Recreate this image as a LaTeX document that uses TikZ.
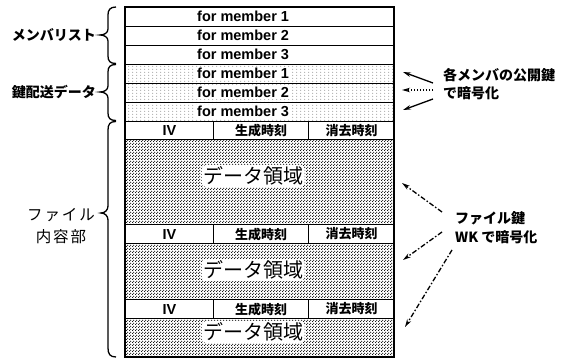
\documentclass[tikz,border=0pt]{standalone}
\usepackage{fontspec}
\setmainfont{Liberation Sans}
\newfontfamily\jp{Noto Sans CJK JP}
\newfontfamily\jpls{Noto Sans CJK JP}[LetterSpace=12]
\usetikzlibrary{patterns.meta,arrows.meta}

\tikzdeclarepattern{name=sparsedots, type=uncolored,
  bottom left={(0pt,0pt)}, top right={(4pt,3pt)}, tile size={(4pt,3pt)},
  code={\fill (1pt,1pt) circle (0.5pt);}}
\tikzdeclarepattern{name=densedots, type=uncolored,
  bottom left={(0pt,0pt)}, top right={(3pt,3pt)}, tile size={(3pt,3pt)},
  code={\fill (0.75pt,0.75pt) circle (0.75pt); \fill (2.25pt,2.25pt) circle (0.75pt);}}

\begin{document}
\begin{tikzpicture}[x=1pt,y=-1pt,
  cell/.style={draw, line width=1.1pt, inner sep=0pt, anchor=north west, minimum width=#1},
  cell/.default=269pt,
  keyrow/.style={cell, pattern=sparsedots, pattern color=black!80},
  datarow/.style={cell, pattern=densedots, pattern color=black},
  memtxt/.style={anchor=west, inner sep=1pt, font=\fontsize{14.5}{15}\selectfont\bfseries},
  memtxtw/.style={memtxt, fill=white},
  hdtxt/.style={inner sep=0pt, font=\jp\fontsize{13}{14}\selectfont\bfseries},
  datatxt/.style={fill=white, rounded corners=4pt, inner sep=1.5pt, font=\jp\fontsize{20}{22}\selectfont},
  lbl/.style={font=\jp\fontsize{14}{15}\selectfont\bfseries},
  lblfile/.style={font=\jpls\fontsize{15.5}{17}\selectfont},
  note/.style={anchor=west, inner sep=0pt, font=\jp\fontsize{14}{15}\selectfont\bfseries},
  bracestyle/.style={line width=1.3pt},
  keyarrow/.style={line width=1.3pt, -{Stealth[length=8pt,width=4.5pt]}},
  wkarrow/.style={line width=1.3pt, dash pattern=on 5pt off 2pt on 1.5pt off 2pt, -{Stealth[length=8pt,width=4.5pt]}}
]
\useasboundingbox (0,0) rectangle (568,358);

% member list rows
\node[cell, minimum height=19pt] (m1) at (125,7) {};
\node[cell, minimum height=19pt] (m2) at (125,26) {};
\node[cell, minimum height=19pt] (m3) at (125,45) {};
\node[memtxt] (tm1) at (196,16.5) {for member 1};
\node[memtxt] (tm2) at (196,35.5) {for member 2};
\node[memtxt] (tm3) at (196,54.5) {for member 3};

% key distribution rows
\node[keyrow, minimum height=19pt] (k1) at (125,64) {};
\node[keyrow, minimum height=19pt] (k2) at (125,83) {};
\node[keyrow, minimum height=19pt] (k3) at (125,102) {};
\node[memtxtw] (tk1) at (196,73.5) {for member 1};
\node[memtxtw] (tk2) at (196,92.5) {for member 2};
\node[memtxtw] (tk3) at (196,111.5) {for member 3};

% file content: header rows and data regions
\node[cell=88pt, minimum height=18pt, fill=white] (iv1) at (125,121) {};
\node[cell=95pt, minimum height=18pt, fill=white] (gs1) at (213,121) {};
\node[cell=86pt, minimum height=18pt, fill=white] (sk1) at (308,121) {};
\node[datarow, minimum height=85pt] (d1) at (125,139) {};

\node[cell=88pt, minimum height=19pt, fill=white] (iv2) at (125,224) {};
\node[cell=95pt, minimum height=19pt, fill=white] (gs2) at (213,224) {};
\node[cell=86pt, minimum height=19pt, fill=white] (sk2) at (308,224) {};
\node[datarow, minimum height=56pt] (d2) at (125,243) {};

\node[cell=88pt, minimum height=19pt, fill=white] (iv3) at (125,299) {};
\node[cell=95pt, minimum height=19pt, fill=white] (gs3) at (213,299) {};
\node[cell=86pt, minimum height=19pt, fill=white] (sk3) at (308,299) {};
\node[datarow, minimum height=39pt] (d3) at (125,318) {};

\foreach \r in {1,2,3}{
  \node[memtxt, anchor=center, inner sep=0pt] (tiv\r) at (iv\r.center) {IV};
  \node[hdtxt] (tgs\r) at (gs\r.center) {生成時刻};
  \node[hdtxt] (tsk\r) at (sk\r.center) {消去時刻};
}
\node[datatxt] (td1) at (253,176) {データ領域};
\node[datatxt] (td2) at (253,270) {データ領域};
\node[datatxt] (td3) at (253,332) {データ領域};

% outer border
\draw[line width=1.8pt] (125,7) rectangle (394,357);

% braces
\draw[bracestyle] (116,7) .. controls (110,7) and (108,10) .. (108,15) -- (108,29)
  .. controls (108,33) and (104,35) .. (100,35) .. controls (104,35) and (108,37) .. (108,41)
  -- (108,56) .. controls (108,61) and (110,63.5) .. (116,63.5);
\draw[bracestyle] (116,64.5) .. controls (110,64.5) and (108,67) .. (108,72) -- (108,86)
  .. controls (108,90) and (104,92) .. (100,92) .. controls (104,92) and (108,94) .. (108,98)
  -- (108,113) .. controls (108,118) and (110,120.5) .. (116,120.5);
\draw[bracestyle] (116,121.5) .. controls (110,121.5) and (108,124) .. (108,130) -- (108,206)
  .. controls (108,210) and (105,213) .. (101,213) .. controls (105,213) and (108,216) .. (108,220)
  -- (108,348) .. controls (108,354) and (110,357) .. (116,357);

% left labels
\node[lbl] (lml) at (54,35) {メンバリスト};
\node[lbl] (lkd) at (54,92) {鍵配送データ};
\node[lblfile] (lf1) at (61,215) {ファイル};
\node[lblfile] (lf2) at (61,237) {内容部};

% right notes: public key encryption
\node[note] (n1) at (443,75) {各メンバの公開鍵};
\node[note] (n2) at (443,93) {で暗号化};
\coordinate (a1s) at (433,83);
\coordinate (a1e) at (403,72);
\coordinate (a2s) at (433,90);
\coordinate (a2e) at (402,90);
\coordinate (a3s) at (433,99);
\coordinate (a3e) at (403,110);
\draw[keyarrow] (a1s) -- (a1e);
\draw[keyarrow, dash pattern=on 1.5pt off 1.5pt] (a2s) -- (a2e);
\draw[keyarrow] (a3s) -- (a3e);

% right notes: file key encryption
\node[note] (w1) at (455,218) {ファイル鍵};
\node[note] (w2) at (455,237) {WK で暗号化};
\coordinate (b1s) at (442,212);
\coordinate (b1e) at (402,183);
\coordinate (b2s) at (442,232);
\coordinate (b2e) at (403,260);
\coordinate (b3s) at (452,250);
\coordinate (b3e) at (405,327);
\draw[wkarrow] (b1s) -- (b1e);
\draw[wkarrow] (b2s) -- (b2e);
\draw[wkarrow] (b3s) -- (b3e);
\end{tikzpicture}
\end{document}
